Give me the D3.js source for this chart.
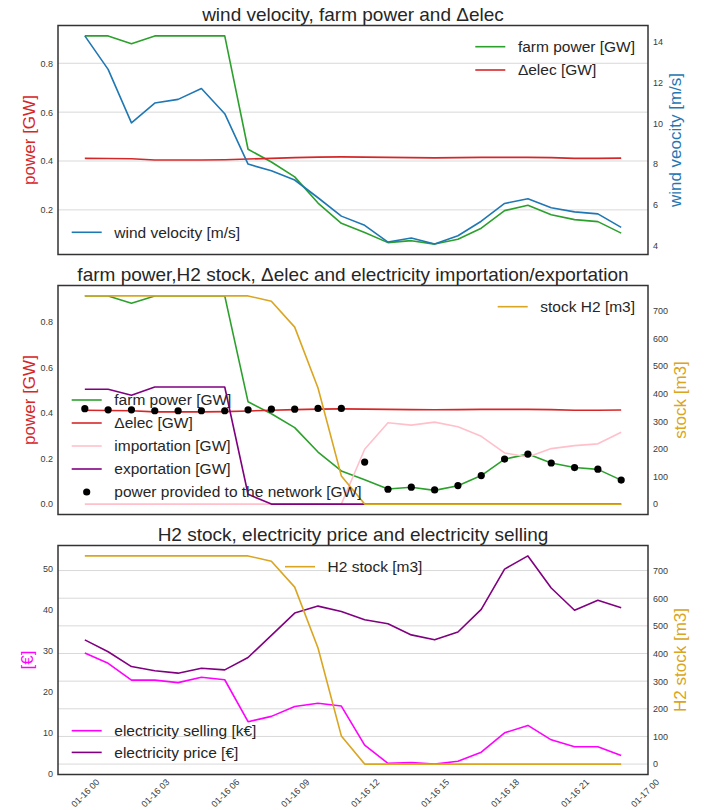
<!DOCTYPE html>
<html>
<head>
<meta charset="utf-8">
<script src="https://cdn.jsdelivr.net/npm/d3@7"></script>
<style>
  body { margin: 0; background: #fff; }
  svg { font-family: "Liberation Sans", Arial, sans-serif; }
</style>
</head>
<body>
<script>
// hourly samples of 2020-01-16 (UTC)
var hours = [0, 1, 2, 3, 4, 5, 6, 7, 8, 9, 10, 11, 12, 13, 14, 15, 16, 17, 18, 19, 20, 21, 22, 23];

var farmPower = [0.912, 0.912, 0.880, 0.912, 0.912, 0.912, 0.912, 0.448, 0.396, 0.335, 0.228, 0.145,
  0.107, 0.066, 0.074, 0.060, 0.080, 0.125, 0.197, 0.219, 0.180, 0.160, 0.152, 0.105];
var deltaElec = [0.411, 0.410, 0.409, 0.404, 0.404, 0.404, 0.405, 0.408, 0.411, 0.414, 0.416, 0.417,
  0.416, 0.415, 0.414, 0.413, 0.414, 0.415, 0.415, 0.415, 0.414, 0.411, 0.411, 0.412];
var windSpeed = [14.28, 12.64, 10.02, 10.99, 11.17, 11.70, 10.47, 8.00, 7.67, 7.22, 6.35, 5.45,
  5.00, 4.18, 4.38, 4.08, 4.49, 5.20, 6.07, 6.30, 5.86, 5.66, 5.56, 4.90];
var importation = [0, 0, 0, 0, 0, 0, 0, 0, 0, 0, 0, 0,
  0.240, 0.356, 0.346, 0.359, 0.339, 0.297, 0.224, 0.206, 0.243, 0.256, 0.264, 0.315];
var exportation = [0.503, 0.503, 0.477, 0.513, 0.513, 0.513, 0.513, 0.043, 0, 0, 0, 0,
  0, 0, 0, 0, 0, 0, 0, 0, 0, 0, 0, 0];
var providedPower = [0.418, 0.413, 0.413, 0.409, 0.409, 0.409, 0.409, 0.413, 0.416, 0.416, 0.419, 0.419,
  0.184, 0.065, 0.074, 0.062, 0.081, 0.125, 0.197, 0.219, 0.180, 0.160, 0.153, 0.105];
var stockH2 = [753, 753, 753, 753, 753, 753, 753, 753, 734, 640, 420, 102,
  0, 0, 0, 0, 0, 0, 0, 0, 0, 0, 0, 0];
var elecPrice = [32.6, 29.7, 26.1, 25.1, 24.5, 25.7, 25.3, 28.3, 33.7, 39.1, 40.8, 39.5,
  37.5, 36.5, 33.8, 32.6, 34.5, 40.0, 49.8, 53.0, 45.2, 39.8, 42.2, 40.4];
var elecSelling = [29.4, 26.9, 22.8, 22.8, 22.2, 23.5, 22.9, 12.7, 14.0, 16.4, 17.2, 16.5,
  7.0, 2.6, 2.8, 2.4, 3.1, 5.3, 10.0, 11.8, 8.3, 6.6, 6.6, 4.5];

// tick values
var xTickHours = [0, 3, 6, 9, 12, 15, 18, 21, 24];
var powerTicks1 = [0.2, 0.4, 0.6, 0.8];
var windTicks = [4, 6, 8, 10, 12, 14];
var powerTicks2 = [0.0, 0.2, 0.4, 0.6, 0.8];
var stockTicks = [0, 100, 200, 300, 400, 500, 600, 700];
var euroTicks = [0, 10, 20, 30, 40, 50];

var W = 713, H = 810;
var left = 58, right = 648, panelH = 229;
var tops = [25.5, 285.5, 545.5];

var svg = d3.select("body").append("svg").attr("width", W).attr("height", H);

var t0 = Date.UTC(2020, 0, 16), HOUR = 3600000;
function toDate(h) { return new Date(t0 + h * HOUR); }

// matplotlib style 5% margins
function pad(vals) {
  var lo = d3.min(vals), hi = d3.max(vals), m = (hi - lo) * 0.05;
  return [lo - m, hi + m];
}

var x = d3.scaleUtc().domain(pad(hours).map(toDate)).range([left, right]);

function grid(y, ticks) {
  svg.append("g").selectAll("line").data(ticks).join("line")
    .attr("x1", left).attr("x2", right)
    .attr("y1", function (d) { return y(d); }).attr("y2", function (d) { return y(d); })
    .attr("stroke", "#d9d9d9").attr("stroke-width", 1);
}

function plot(y, vals, color) {
  var line = d3.line()
    .x(function (d, i) { return x(toDate(hours[i])); })
    .y(function (d) { return y(d); });
  svg.append("path").datum(vals)
    .attr("fill", "none").attr("stroke", color).attr("stroke-width", 1.6)
    .attr("stroke-linejoin", "round").attr("d", line);
}

function frame(top) {
  svg.append("rect").attr("x", left).attr("y", top).attr("width", right - left).attr("height", panelH)
    .attr("fill", "none").attr("stroke", "#333").attr("stroke-width", 1.5);
}

function yAxis(y, ticks, side, fmt) {
  var ax = side == "left" ? d3.axisLeft(y) : d3.axisRight(y);
  var g = svg.append("g")
    .attr("transform", "translate(" + (side == "left" ? left : right) + ",0)")
    .call(ax.tickValues(ticks).tickSize(0).tickPadding(5).tickFormat(fmt));
  g.select(".domain").remove();
  g.attr("font-family", null).attr("font-size", null);
  g.selectAll("text").attr("fill", "#3a3a3a").style("font-size", "9px");
}

function title(top, txt) {
  svg.append("text").attr("x", (left + right) / 2).attr("y", top - 5)
    .attr("text-anchor", "middle").attr("fill", "#262626").style("font-size", "19px").text(txt);
}

function yLabel(xp, top, txt, color) {
  svg.append("text")
    .attr("transform", "translate(" + xp + "," + (top + panelH / 2) + ") rotate(-90)")
    .attr("text-anchor", "middle").attr("dy", "0.35em")
    .attr("fill", color).style("font-size", "17px").text(txt);
}

function legend(x0, y0, step, items) {
  items.forEach(function (it, i) {
    var cy = y0 + i * step;
    if (it.dot) {
      svg.append("circle").attr("cx", x0 + 15).attr("cy", cy).attr("r", 3.6).attr("fill", "#000");
    } else {
      svg.append("line").attr("x1", x0).attr("x2", x0 + 30).attr("y1", cy).attr("y2", cy)
        .attr("stroke", it.color).attr("stroke-width", 1.6);
    }
    svg.append("text").attr("x", x0 + 42.6).attr("y", cy).attr("dy", "0.35em")
      .attr("fill", "#262626").style("font-size", "15.5px").text(it.label);
  });
}

var RED = "#d62728", GREEN = "#2ca02c", BLUE = "#1f77b4", GOLD = "#daa520",
  PINK = "#ffc0cb", PURPLE = "#800080", MAGENTA = "#ff00ff";

// ---- panel 1: wind velocity, farm power and delta elec
var top1 = tops[0];
var p1 = d3.scaleLinear().domain(pad(farmPower.concat(deltaElec))).range([top1 + panelH, top1]);
var w1 = d3.scaleLinear().domain(pad(windSpeed)).range([top1 + panelH, top1]);
grid(p1, powerTicks1);
plot(p1, farmPower, GREEN);
plot(p1, deltaElec, RED);
plot(w1, windSpeed, BLUE);
frame(top1);
yAxis(p1, powerTicks1, "left", d3.format(".1f"));
yAxis(w1, windTicks, "right", d3.format("d"));
title(top1, "wind velocity, farm power and \u0394elec");
yLabel(29, top1, "power [GW]", RED);
yLabel(675, top1, "wind veocity [m/s]", BLUE);
legend(475.3, 46.7, 23.3, [
  { label: "farm power [GW]", color: GREEN },
  { label: "\u0394elec [GW]", color: RED }
]);
legend(71.7, 232.3, 23, [{ label: "wind velocity [m/s]", color: BLUE }]);

// ---- panel 2: farm power, H2 stock, delta elec, import/export
var top2 = tops[1];
var p2 = d3.scaleLinear()
  .domain(pad(farmPower.concat(deltaElec, importation, exportation, providedPower)))
  .range([top2 + panelH, top2]);
var s2 = d3.scaleLinear().domain(pad(stockH2)).range([top2 + panelH, top2]);
plot(p2, farmPower, GREEN);
plot(p2, deltaElec, RED);
plot(p2, importation, PINK);
plot(p2, exportation, PURPLE);
svg.append("g").selectAll("circle").data(providedPower).join("circle")
  .attr("cx", function (d, i) { return x(toDate(hours[i])); })
  .attr("cy", function (d) { return p2(d); })
  .attr("r", 3.6).attr("fill", "#000");
plot(s2, stockH2, GOLD);
frame(top2);
yAxis(p2, powerTicks2, "left", d3.format(".1f"));
yAxis(s2, stockTicks, "right", d3.format("d"));
title(top2, "farm power,H2 stock, \u0394elec and electricity importation/exportation");
yLabel(29, top2, "power [GW]", RED);
yLabel(680, top2, "stock [m3]", GOLD);
legend(71.7, 400, 23, [
  { label: "farm power [GW]", color: GREEN },
  { label: "\u0394elec [GW]", color: RED },
  { label: "importation [GW]", color: PINK },
  { label: "exportation [GW]", color: PURPLE },
  { label: "power provided to the network [GW]", dot: true }
]);
legend(497.7, 306.7, 23, [{ label: "stock H2 [m3]", color: GOLD }]);

// ---- panel 3: H2 stock, electricity price and selling
var top3 = tops[2];
var e3 = d3.scaleLinear().domain(pad(elecPrice.concat(elecSelling))).range([top3 + panelH, top3]);
var s3 = d3.scaleLinear().domain(pad(stockH2)).range([top3 + panelH, top3]);
grid(s3, stockTicks);
plot(e3, elecSelling, MAGENTA);
plot(e3, elecPrice, PURPLE);
plot(s3, stockH2, GOLD);
frame(top3);
yAxis(e3, euroTicks, "left", d3.format("d"));
yAxis(s3, stockTicks, "right", d3.format("d"));
title(top3, "H2 stock, electricity price and electricity selling");
yLabel(27, top3, "[\u20ac]", MAGENTA);
yLabel(680, top3, "H2 stock [m3]", GOLD);
legend(285, 566.7, 23, [{ label: "H2 stock [m3]", color: GOLD }]);
legend(71.7, 730.7, 21.7, [
  { label: "electricity selling [k\u20ac]", color: MAGENTA },
  { label: "electricity price [\u20ac]", color: PURPLE }
]);

// x axis, rotated date labels
var xg = svg.append("g").attr("transform", "translate(0," + (top3 + panelH) + ")")
  .call(d3.axisBottom(x).tickValues(xTickHours.map(toDate)).tickSize(0)
    .tickFormat(d3.utcFormat("%m-%d %H")));
xg.select(".domain").remove();
xg.attr("font-family", null).attr("font-size", null);
xg.selectAll("text")
  .attr("y", 0).attr("dy", "0.35em")
  .attr("text-anchor", "middle")
  .attr("transform", "translate(0,18.5) rotate(-45)")
  .attr("fill", "#3a3a3a").style("font-size", "9px");
</script>
</body>
</html>
